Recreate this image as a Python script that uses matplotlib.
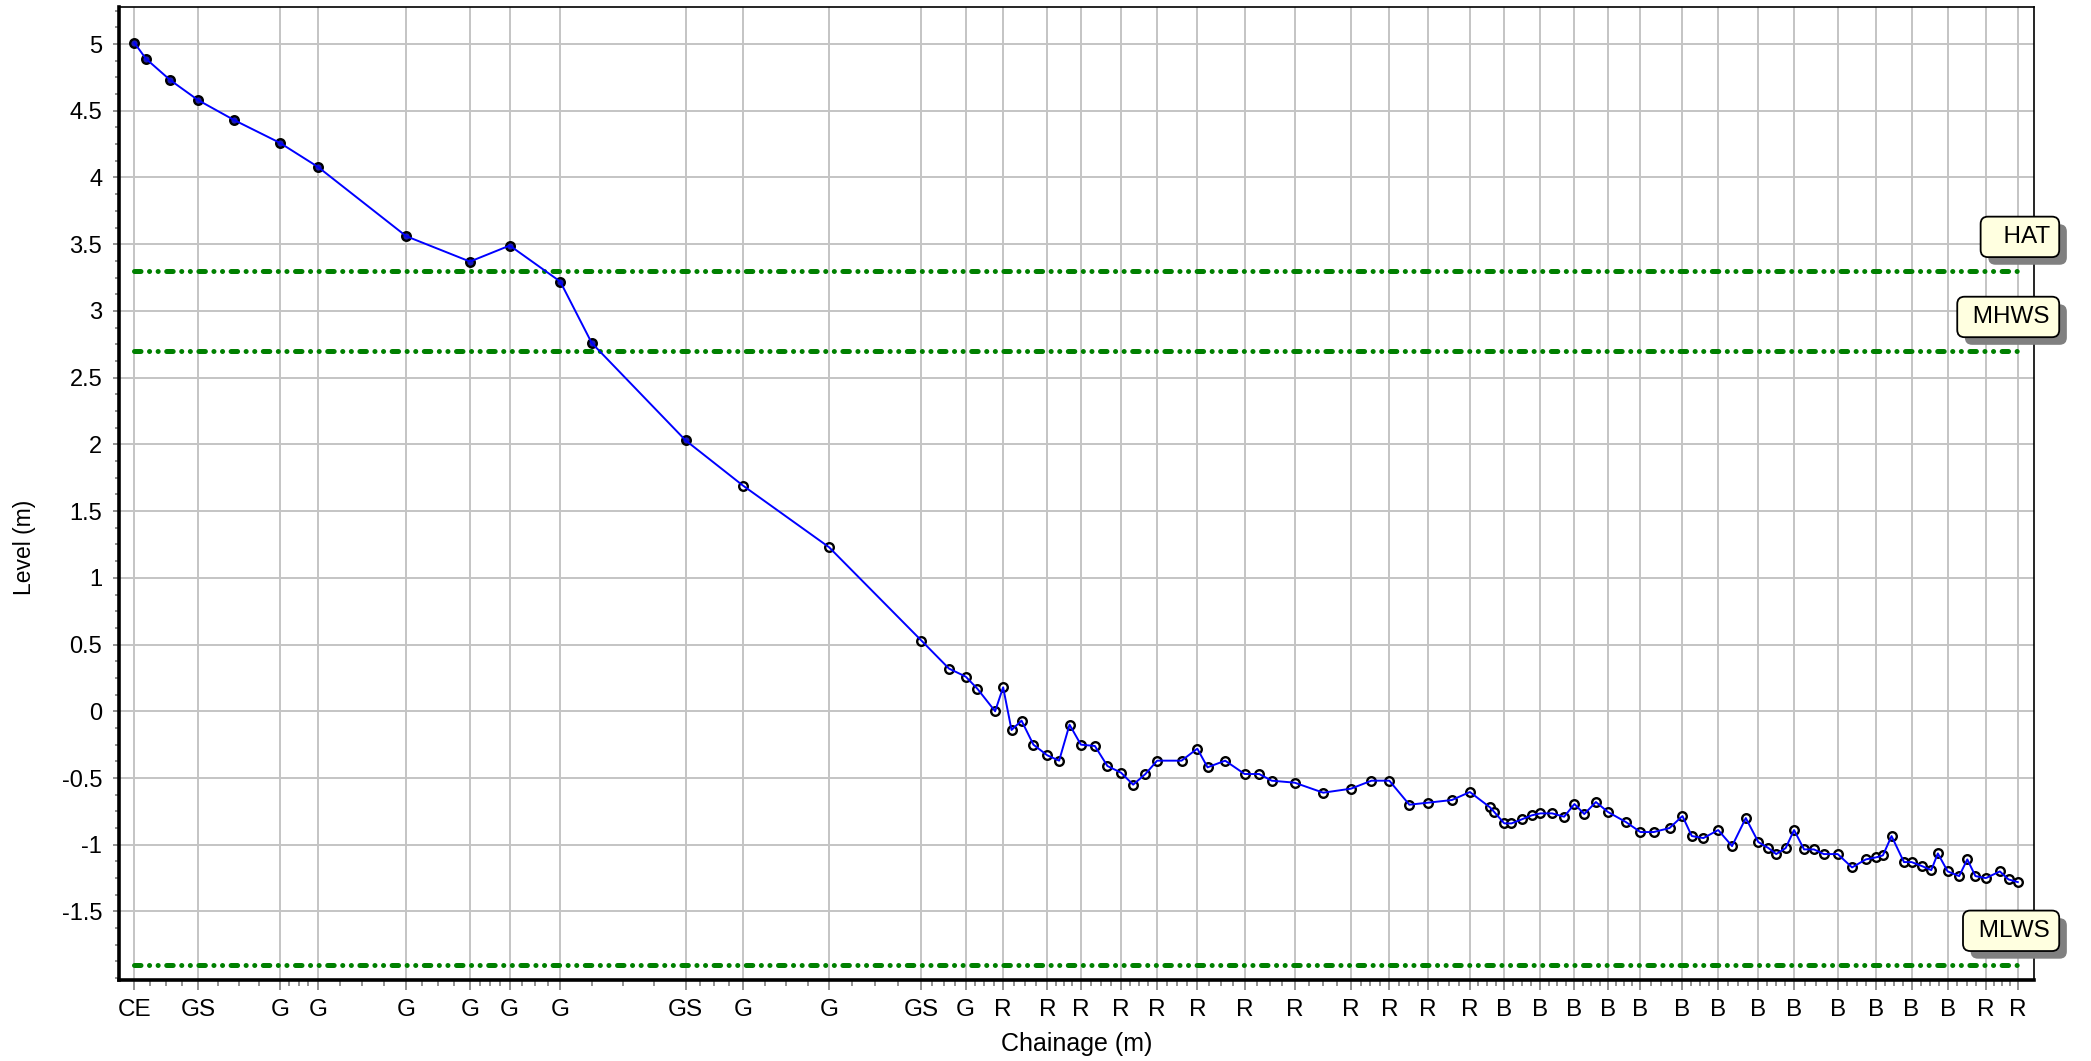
import matplotlib
matplotlib.use("Agg")
import matplotlib.pyplot as plt
import matplotlib.patheffects as pe
from matplotlib.ticker import FixedLocator, FuncFormatter, MultipleLocator
import numpy as np

# survey points: chainage (m), level (m), feature code ("" = no code)
chainage = [0.00, 0.87, 2.69, 4.78, 7.49, 10.91, 13.76, 20.39, 25.17, 28.15,
            31.94, 34.30, 41.34, 45.66, 52.09, 59.02, 61.09, 62.34, 63.21, 64.55,
            65.15, 65.78, 66.53, 67.42, 68.46, 69.35, 70.13, 70.98, 72.03, 72.97,
            73.99, 74.90, 75.82, 76.70, 78.53, 79.71, 80.48, 81.80, 83.26, 84.35,
            85.29, 87.01, 89.15, 91.23, 92.77, 94.11, 95.61, 96.99, 98.80, 100.15,
            101.66, 101.98, 102.73, 103.27, 104.04, 104.78, 105.44, 106.32, 107.22, 107.99,
            108.73, 109.60, 110.51, 111.85, 112.94, 113.93, 115.12, 116.09, 116.79, 117.66,
            118.77, 119.81, 120.84, 121.78, 122.54, 123.12, 123.83, 124.46, 125.21, 125.95,
            126.69, 127.73, 128.81, 129.84, 130.59, 131.12, 131.77, 132.70, 133.27, 134.05,
            134.75, 135.24, 135.98, 136.84, 137.45, 138.06, 138.84, 139.89, 140.54, 141.24]
level = [5.01, 4.89, 4.73, 4.58, 4.43, 4.26, 4.08, 3.56, 3.37, 3.49,
         3.22, 2.76, 2.03, 1.69, 1.23, 0.53, 0.32, 0.26, 0.17, 0.00,
         0.18, -0.14, -0.07, -0.25, -0.33, -0.37, -0.10, -0.25, -0.26, -0.41,
         -0.46, -0.55, -0.47, -0.37, -0.37, -0.28, -0.42, -0.37, -0.47, -0.47,
         -0.52, -0.535, -0.61, -0.58, -0.52, -0.52, -0.70, -0.685, -0.665, -0.605,
         -0.72, -0.755, -0.84, -0.84, -0.81, -0.78, -0.765, -0.765, -0.79, -0.695,
         -0.77, -0.68, -0.755, -0.83, -0.905, -0.905, -0.875, -0.785, -0.935, -0.95,
         -0.89, -1.01, -0.80, -0.98, -1.025, -1.07, -1.025, -0.89, -1.035, -1.035,
         -1.07, -1.07, -1.17, -1.11, -1.095, -1.08, -0.935, -1.13, -1.13, -1.16,
         -1.19, -1.065, -1.20, -1.235, -1.11, -1.235, -1.25, -1.20, -1.26, -1.28]
codes = ["CE", "", "", "GS", "", "G", "G", "G", "G", "G",
         "G", "", "GS", "G", "G", "GS", "", "G", "", "",
         "R", "", "", "", "R", "", "", "R", "", "",
         "R", "", "", "R", "", "R", "", "", "R", "",
         "", "R", "", "R", "", "R", "", "R", "", "R",
         "", "", "B", "", "", "", "B", "", "", "B",
         "", "", "B", "", "B", "", "", "B", "", "",
         "B", "", "", "B", "", "", "", "B", "", "",
         "", "B", "", "", "B", "", "", "", "B", "",
         "", "", "B", "", "", "", "R", "", "", "R"]
n_filled = 13  # first points drawn with solid fill

tide_names = ["HAT", "MHWS", "MLWS"]
tide_levels = [3.3, 2.7, -1.9]

level_ticks = [-1.5, -1, -0.5, 0, 0.5, 1, 1.5, 2, 2.5, 3, 3.5, 4, 4.5, 5]

plt.rcParams['font.family'] = ['Liberation Sans', 'DejaVu Sans']
plt.rcParams['axes.unicode_minus'] = False

fig = plt.figure(figsize=(20.91, 10.61), dpi=100)
ax = fig.add_axes([0.0569, 0.0768, 0.9157, 0.9169])

x = np.array(chainage)
y = np.array(level)

# tide levels
for name, lvl in zip(tide_names, tide_levels):
    ax.plot([x[0], x[-1]], [lvl, lvl], color='#008000', lw=3.6,
            dashes=(1.3, 1.7, 0.02, 1.7, 0.02, 1.7),
            dash_capstyle='round', zorder=2)
    t = ax.text(1.0085, lvl + 0.255, " " + name.rjust(4), transform=ax.get_yaxis_transform(),
                ha='right', va='center', fontsize=17.5, zorder=10, clip_on=False,
                bbox=dict(boxstyle='round,pad=0.38,rounding_size=0.3',
                          fc='#ffffe0', ec='black', lw=1.3))
    t.get_bbox_patch().set_path_effects([
        pe.SimplePatchShadow(offset=(5.5, -5.5), shadow_rgbFace='#808080', alpha=1.0),
        pe.Normal()])

# profile
ax.plot(x[:n_filled], y[:n_filled], ls='none', marker='o', ms=6.2, mew=1.7,
        mfc='#1c1cb4', mec='black', zorder=3)
ax.plot(x[n_filled:], y[n_filled:], ls='none', marker='o', ms=6.2, mew=1.7,
        mfc='white', mec='black', zorder=3)
ax.plot(x, y, color='blue', lw=1.4, zorder=4)

# x axis: coded points as major ticks, quarter divisions as minor ticks
major_x = [c for c, k in zip(chainage, codes) if k]
major_lab = [k for k in codes if k]
minor_x = []
for a, b in zip(major_x[:-1], major_x[1:]):
    minor_x += [a + (b - a) * f for f in (0.25, 0.5, 0.75)]
ax.set_xticks(major_x)
ax.set_xticklabels(major_lab)
ax.xaxis.set_minor_locator(FixedLocator(minor_x))
ax.set_xlim(-1.15, 142.43)

ax.set_ylim(-2.01, 5.28)
ax.yaxis.set_major_locator(FixedLocator(level_ticks))
ax.yaxis.set_minor_locator(MultipleLocator(0.125))
ax.yaxis.set_major_formatter(FuncFormatter(lambda v, p: f"{round(v, 3) + 0:g}"))

ax.tick_params(axis='x', which='major', length=7, width=1.2, color='#808080',
               pad=7, labelsize=17.5)
ax.tick_params(axis='x', which='minor', length=4, width=1.2, color='#808080')
ax.tick_params(axis='y', which='major', length=4, width=1.2, color='#808080',
               pad=8, labelsize=17)
ax.tick_params(axis='y', which='minor', length=3, width=1.2, color='#808080')

ax.grid(True, which='major', color='#c4c4c4', lw=1.4)
ax.set_axisbelow(True)

for s in ['left', 'bottom']:
    ax.spines[s].set_linewidth(2.6)
for s in ['top', 'right']:
    ax.spines[s].set_linewidth(1.2)

ax.set_xlabel("Chainage (m)", fontsize=18, va='center')
ax.xaxis.set_label_coords(0.5, -0.0663)
ax.set_ylabel("Level (m)", fontsize=16.5, va='center')
ax.yaxis.set_label_coords(-0.0496, 0.4446)

fig.savefig("out.png", dpi=100)
